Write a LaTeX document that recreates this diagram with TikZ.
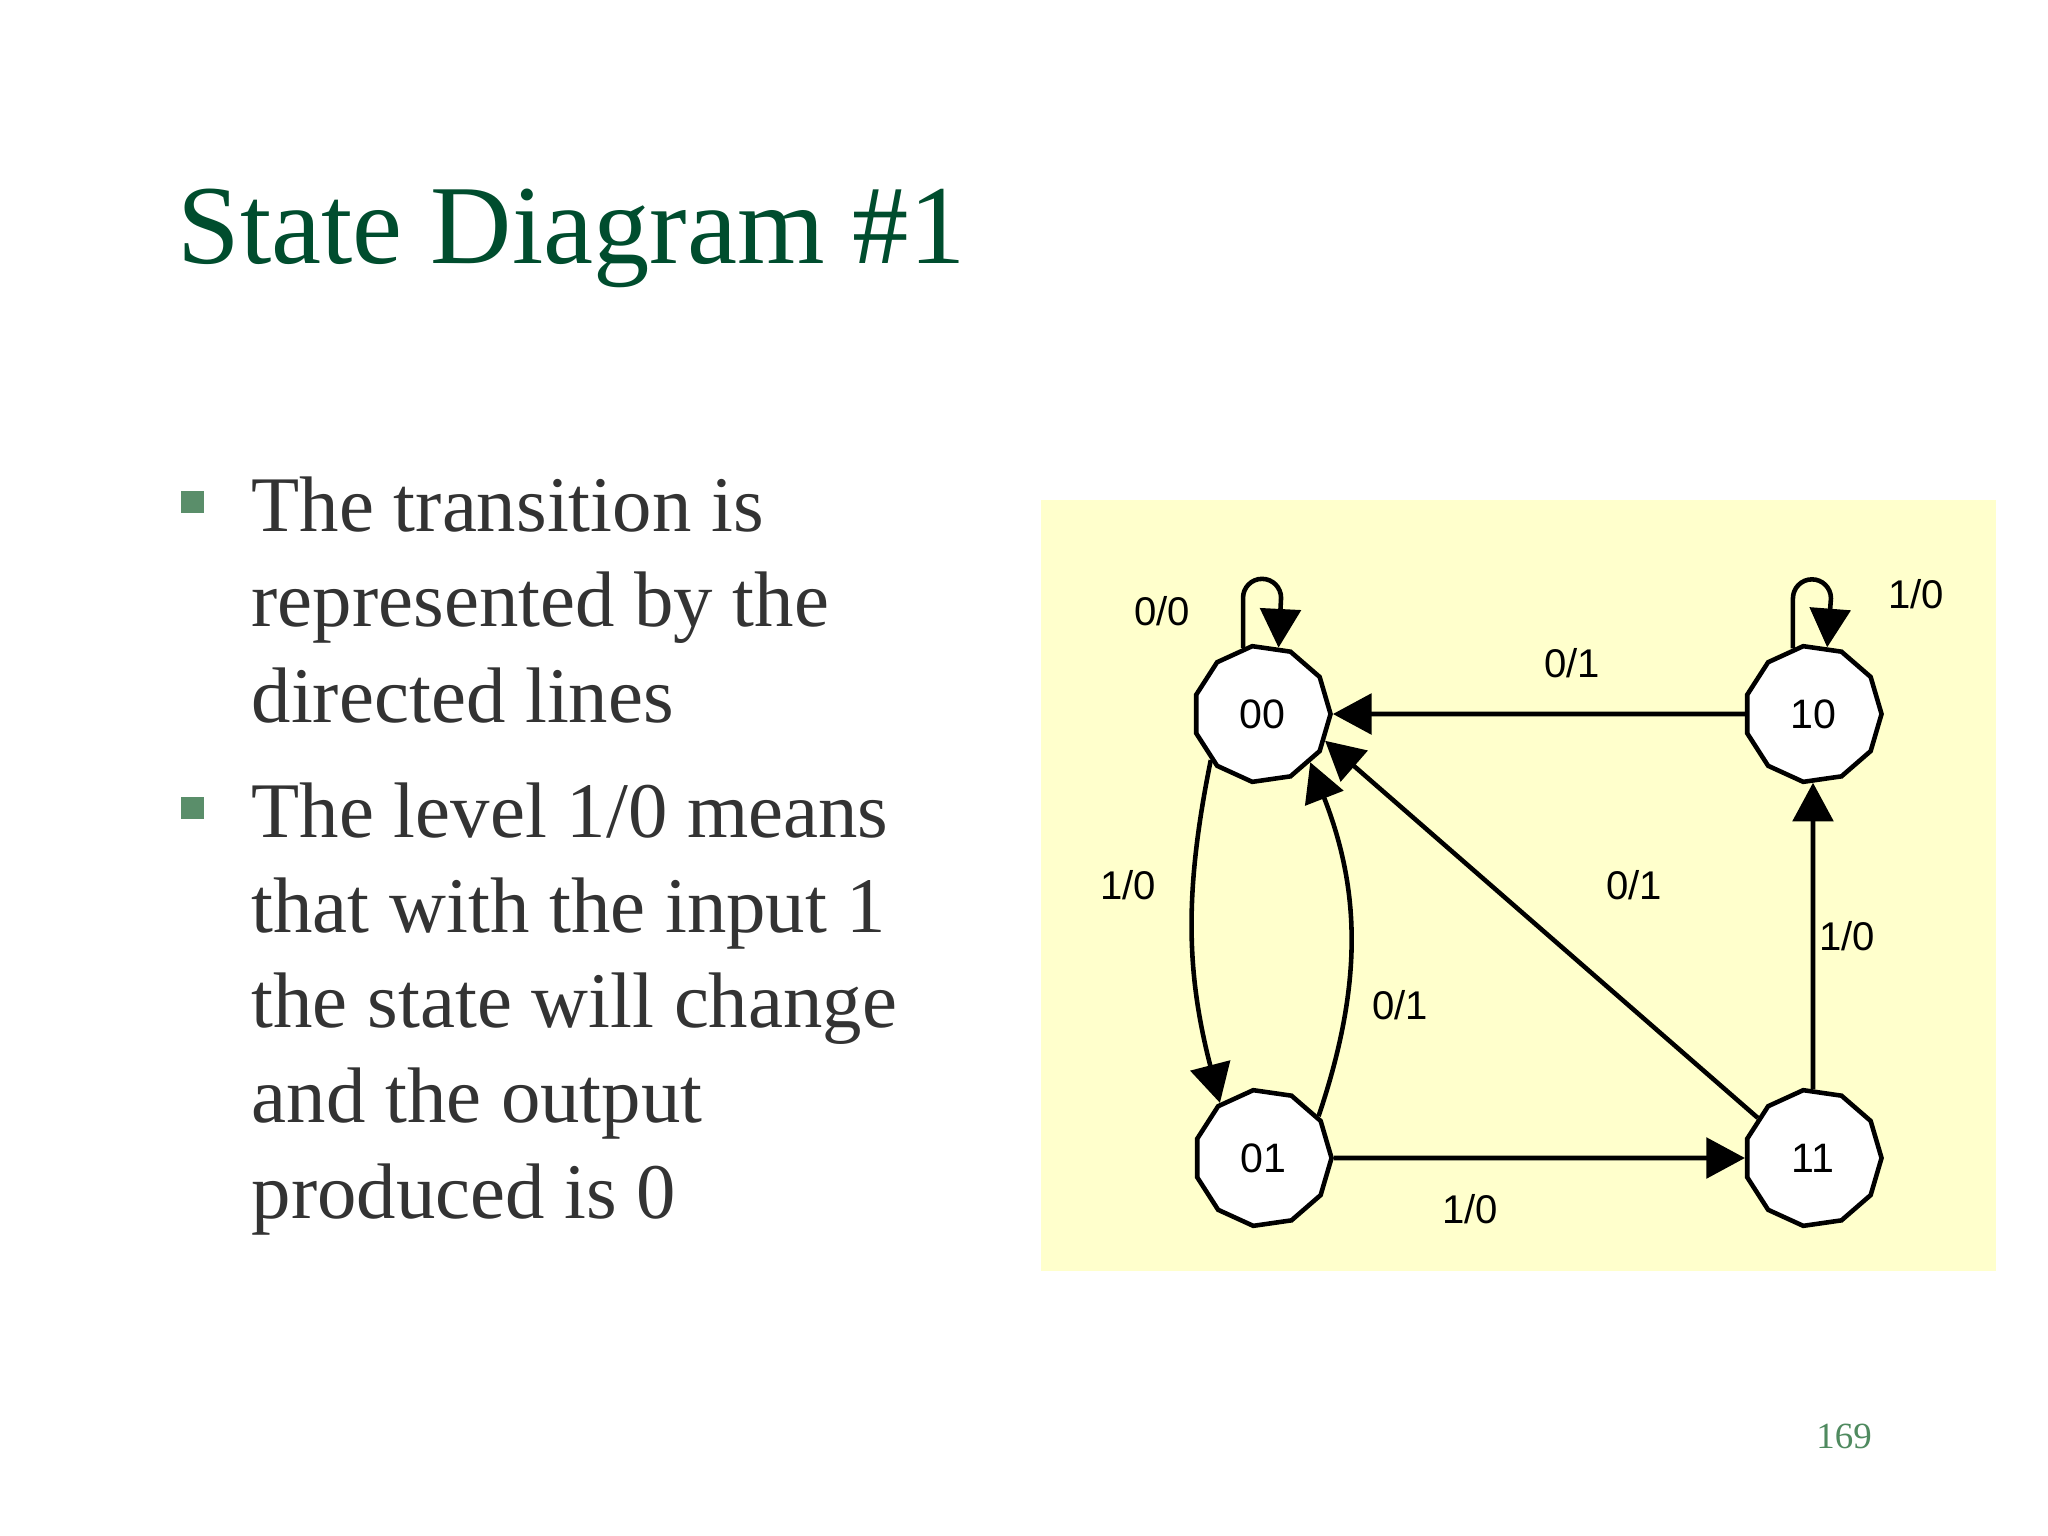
\documentclass[tikz,border=0pt]{standalone}
\usepackage{fontspec}
\setmainfont{Liberation Serif}
\newfontfamily\diagfont{Liberation Sans}
\usetikzlibrary{shapes.geometric,arrows.meta}
\definecolor{titlegreen}{RGB}{0,77,46}
\definecolor{bodygray}{RGB}{51,51,51}
\definecolor{bulletgreen}{RGB}{90,142,106}
\definecolor{pagegreen}{RGB}{79,138,95}
\definecolor{boxyellow}{RGB}{255,255,204}
\begin{document}
\begin{tikzpicture}[x=0.01cm, y=-0.01cm,
    state/.style={draw, fill=white, line width=1.3pt, regular polygon,
      regular polygon sides=11, shape border rotate=-90, minimum size=1.37cm,
      inner sep=0pt, font=\diagfont\fontsize{11.7}{13}\selectfont},
    edge/.style={line width=1.3pt, -{Triangle[length=11pt,width=11.5pt]}},
    lbl/.style={inner sep=0pt, font=\diagfont\fontsize{11.4}{13}\selectfont},
    bodytext/.style={anchor=base west, inner sep=0pt, text=bodygray,
      font=\fontsize{22.4}{26}\selectfont},
    bullet/.style={fill=bulletgreen, minimum size=0.22cm, inner sep=0pt}]
  % Page
  \useasboundingbox (0,0) rectangle (2048,1536);
  \fill[white] (0,0) rectangle (2048,1536);
  % Title
  \node[anchor=base west, inner sep=0pt, text=titlegreen,
    font=\fontsize{32}{38}\selectfont] (title) at (177,263) {State Diagram \#1};
  % Bullets
  \node[bullet] (b1) at (192.5,502) {};
  \node[bullet] (b2) at (192.5,808) {};
  \foreach \txt [count=\i] in {The transition is,represented by the,directed lines}
    \node[bodytext] (ta\i) at (251,{531+95.5*(\i-1)}) {\txt};
  \foreach \txt [count=\i] in {The level 1/0 means,that with the input 1,
      the state will change,and the output,produced is 0}
    \node[bodytext] (tb\i) at (251,{837+95.3*(\i-1)}) {\txt};
  % Diagram background
  \fill[boxyellow] (1041,500) rectangle (1996,1271);
  % States
  \node[state] (n00) at (1262,714) {00};
  \node[state] (n10) at (1813,714) {10};
  \node[state] (n01) at (1263,1158) {01};
  \node[state] (n11) at (1813,1158) {11};
  % Transitions
  \draw[edge] (n00.106) -- ++(0,-50) arc[start angle=180, end angle=0, radius=0.19cm] -- (n00.76);
  \draw[edge] (n10.107) -- ++(0,-50) arc[start angle=180, end angle=0, radius=0.19cm] -- (n10.78);
  \draw[edge] (n10) -- (n00);
  \draw[edge] (n11.144) -- (n00.-23);
  \draw[edge] (n11) -- (n10);
  \draw[edge] (n01) -- (n11);
  \draw[edge] (n00.222) to[bend right=13] (n01.128);
  \draw[edge] (n01.37) to[bend right=20] (n00.-45);
  % Labels
  \node[lbl] (l00) at (1162,611) {0/0};
  \node[lbl] (l10) at (1916,594) {1/0};
  \node[lbl] (l10to00) at (1572,663) {0/1};
  \node[lbl] (l00to01) at (1128,885) {1/0};
  \node[lbl] (l11to00) at (1634,885) {0/1};
  \node[lbl] (l11to10) at (1847,936) {1/0};
  \node[lbl] (l01to00) at (1400,1005) {0/1};
  \node[lbl] (l01to11) at (1470,1209) {1/0};
  % Page number
  \node[anchor=base, inner sep=0pt, text=pagegreen,
    font=\fontsize{10.5}{12}\selectfont] (pnum) at (1844,1448) {169};
\end{tikzpicture}
\end{document}
